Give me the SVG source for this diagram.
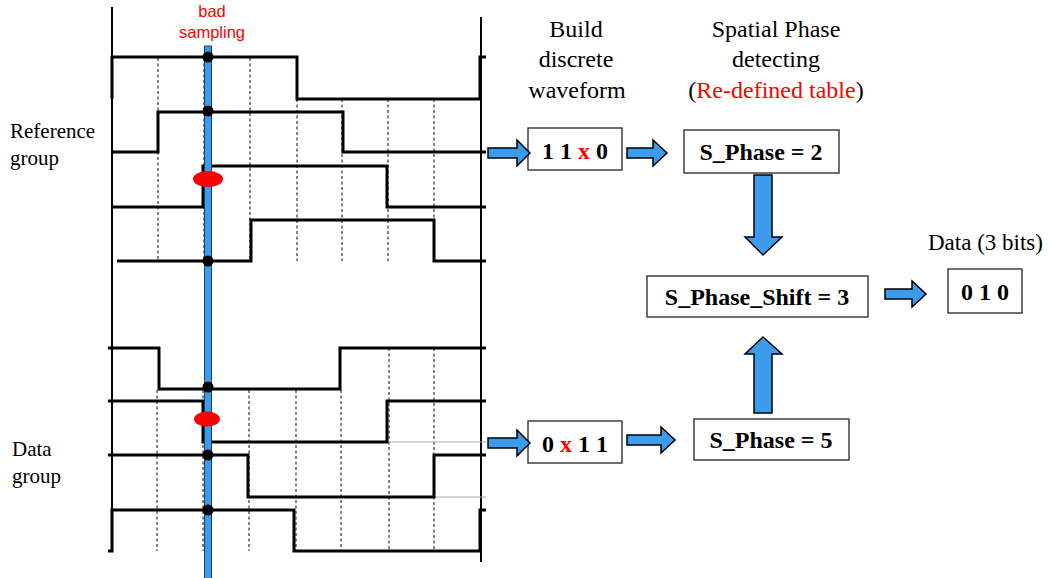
<svg xmlns="http://www.w3.org/2000/svg" width="1050" height="578" viewBox="0 0 1050 578">
  <defs>
    <!-- block arrow pointing right, tip at origin -->
    <path id="arrow-r" d="M-42,-5 H-13 V-13 L0,0 L-13,13 V5 H-42 Z"/>
  </defs>

  <!-- timing chart -->
  <g id="timing">
    <!-- sampling grid -->
    <g fill="none" stroke="#444" stroke-width="1.3" stroke-dasharray="3 2.5">
      <path d="M158,58 V261 M204,58 V261 M250,58 V261 M297,99 V261 M342,99 V261 M388,99 V261 M434,99 V261"/>
      <path d="M157,390 V551 M203,390 V551 M249,390 V551 M296,390 V551 M341,390 V551 M389,348 V551 M434,348 V551"/>
    </g>
    <!-- frame lines -->
    <path d="M112,7 V552 M481,17 V562" fill="none" stroke="#000" stroke-width="2"/>
    <!-- light continuation lines -->
    <path d="M387,442 H486 M434,497 H486" fill="none" stroke="#aaa" stroke-width="1"/>
    <g fill="none" stroke="#000" stroke-width="3">
      <!-- reference group -->
      <path d="M112,99 V57 H297 V99 H480 V57 H486"/>
      <path d="M112,152 H158 V112 H343 V152 H486"/>
      <path d="M112,207 H203 V166 H387 V207 H486"/>
      <path d="M117,261 H251 V220 H434 V261 H486"/>
      <!-- data group -->
      <path d="M108,348 H159 V389 H340 V348 H486"/>
      <path d="M108,401 H203 V442 H387 V401 H486"/>
      <path d="M108,455 H248 V497 H434 V455 H486"/>
      <path d="M108,551 H112 V510 H294 V551 H480 V510 H486"/>
    </g>
    <!-- sampling instant -->
    <rect x="204.5" y="46" width="7" height="540" fill="#3d9bec" stroke="#1a3f66" stroke-width="1"/>
    <g fill="#000">
      <circle cx="208" cy="57" r="5.5"/>
      <circle cx="208" cy="111" r="5.5"/>
      <circle cx="208" cy="261" r="5.5"/>
      <circle cx="208" cy="387" r="5.5"/>
      <circle cx="208" cy="455" r="5.5"/>
      <circle cx="208" cy="510" r="5.5"/>
    </g>
    <g fill="#ff0000">
      <ellipse cx="208" cy="179" rx="15" ry="8"/>
      <ellipse cx="207" cy="419" rx="13" ry="7.5"/>
    </g>
    <text font-family="Liberation Sans" font-size="16.5" fill="#ff0000" text-anchor="middle" x="212" y="17">bad</text>
    <text font-family="Liberation Sans" font-size="16.5" fill="#ff0000" text-anchor="middle" x="212" y="38">sampling</text>
    <text font-family="Liberation Serif" font-size="21" x="10" y="138">Reference</text>
    <text font-family="Liberation Serif" font-size="21" x="10" y="165">group</text>
    <text font-family="Liberation Serif" font-size="21" x="12" y="456">Data</text>
    <text font-family="Liberation Serif" font-size="21" x="12" y="483">group</text>
  </g>

  <!-- column headings -->
  <g id="headings" text-anchor="middle">
    <text font-family="Liberation Serif" font-size="24" x="576" y="37">Build</text>
    <text font-family="Liberation Serif" font-size="24" x="576" y="67">discrete</text>
    <text font-family="Liberation Serif" font-size="24" x="577" y="98">waveform</text>
    <text font-family="Liberation Serif" font-size="24" x="776" y="37">Spatial Phase</text>
    <text font-family="Liberation Serif" font-size="24" x="776" y="67">detecting</text>
    <text font-family="Liberation Serif" font-size="24" x="776" y="98">(<tspan fill="#ff0000">Re-defined table</tspan>)</text>
    <text font-family="Liberation Serif" font-size="23" text-anchor="start" x="928" y="250">Data (3 bits)</text>
  </g>

  <!-- nodes -->
  <g fill="#fff" stroke="#333" stroke-width="1.4">
    <rect id="ref-wave" x="528" y="128" width="94" height="42"/>
    <rect id="data-wave" x="528" y="421" width="94" height="42"/>
    <rect id="ref-phase" x="684" y="130" width="155" height="43"/>
    <rect id="data-phase" x="694" y="419" width="155" height="41"/>
    <rect id="phase-shift" x="647" y="276" width="221" height="41"/>
    <rect id="data-bits" x="948" y="269" width="74" height="44"/>
  </g>
  <g id="node-labels" font-weight="bold" text-anchor="middle" fill="#000">
    <text font-family="Liberation Serif" font-size="24" x="575" y="159">1 1 <tspan fill="#ff0000">x</tspan> 0</text>
    <text font-family="Liberation Serif" font-size="24" x="575" y="452">0 <tspan fill="#ff0000">x</tspan> 1 1</text>
    <text font-family="Liberation Serif" font-size="24" x="761" y="160">S_Phase = 2</text>
    <text font-family="Liberation Serif" font-size="24" x="771" y="448">S_Phase = 5</text>
    <text font-family="Liberation Serif" font-size="24" x="757" y="305">S_Phase_Shift = 3</text>
    <text font-family="Liberation Serif" font-size="24" x="985" y="300">0 1 0</text>
  </g>

  <!-- connectors -->
  <g id="connectors" fill="#3d9bec" stroke="#000" stroke-width="1.5">
    <use href="#arrow-r" transform="translate(530,153)"/>
    <path d="M627,148 H653 V140 L667,153 L653,166 V158 H627 Z"/>
    <use href="#arrow-r" transform="translate(530,443)"/>
    <path d="M627,435 H661 V427 L675,440 L661,453 V445 H627 Z"/>
    <path d="M885,289 H912 V281 L926,294 L912,307 V299 H885 Z"/>
    <path d="M754,175 H772 V237 H782 L763,255 L745,237 H754 Z"/>
    <path d="M754,413 H772 V354 H782 L763,337 L745,354 H754 Z"/>
  </g>
</svg>
